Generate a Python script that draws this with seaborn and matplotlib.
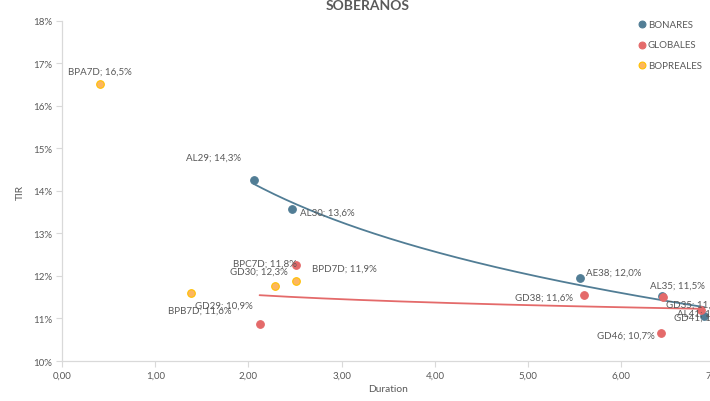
import numpy as np
import pandas as pd
import matplotlib
matplotlib.use("Agg")
import matplotlib.pyplot as plt
import seaborn as sns

# ---- data ----
bonares_names = ["AL29", "AL30", "AE38", "AL35", "AL41"]
bonares_dur = [2.06, 2.47, 5.56, 6.44, 6.89]
bonares_tir = [14.26, 13.57, 11.96, 11.53, 11.05]

globales_names = ["GD29", "GD30", "GD38", "GD35", "GD46", "GD41"]
globales_dur = [2.12, 2.51, 5.60, 6.45, 6.43, 6.86]
globales_tir = [10.87, 12.26, 11.56, 11.50, 10.66, 11.20]

bopreales_names = ["BPA7D", "BPB7D", "BPC7D", "BPD7D"]
bopreales_dur = [0.41, 1.38, 2.29, 2.51]
bopreales_tir = [16.52, 11.60, 11.76, 11.88]

series_names = ["BONARES", "GLOBALES", "BOPREALES"]
x_ticks = [0, 1, 2, 3, 4, 5, 6, 7]
y_ticks = [10, 11, 12, 13, 14, 15, 16, 17, 18]

colors = {"BONARES": "#517D95", "GLOBALES": "#E46A6A", "BOPREALES": "#FDB65F"}
edges = {"BONARES": "#517D95", "GLOBALES": "#E46A6A", "BOPREALES": "#FFC000"}

frames = []
for s, n, d, t in [("BONARES", bonares_names, bonares_dur, bonares_tir),
                   ("GLOBALES", globales_names, globales_dur, globales_tir),
                   ("BOPREALES", bopreales_names, bopreales_dur, bopreales_tir)]:
    frames.append(pd.DataFrame({"serie": s, "name": n, "Duration": d, "TIR": t}))
df = pd.concat(frames, ignore_index=True)

# label offsets in pixels (dx, dy, ha)
label_pos = {
    "BPA7D": (0, 13, "center"), "AL29": (-41, 23, "center"), "AL30": (8, -3, "left"),
    "BPC7D": (-11, 23, "center"), "GD30": (-37, -6, "center"), "BPD7D": (48, 13, "center"),
    "BPB7D": (9, -17, "center"), "GD29": (-36, 19, "center"), "AE38": (6, 5, "left"),
    "GD38": (-11, -3, "right"), "AL35": (15, 11, "center"), "GD35": (3, -7, "left"),
    "GD46": (-7, -2, "right"), "AL41": (0, 3, "center"), "GD41": (2, -7, "center"),
}

sns.set_theme(style="white")
plt.rcParams["font.family"] = ["Lato", "DejaVu Sans"]

fig = plt.figure(figsize=(7.10, 4.02), dpi=100)
ax = fig.add_axes([0.0873, 0.0995, 0.919, 0.846])

txt_color = "#595959"

# trend lines (logarithmic fit)
for s, d, t in [("BONARES", bonares_dur, bonares_tir), ("GLOBALES", globales_dur, globales_tir)]:
    d = np.array(d); t = np.array(t)
    a, b = np.polyfit(np.log(d), t, 1)
    xs = np.linspace(d.min(), d.max(), 200)
    sns.lineplot(x=xs, y=a * np.log(xs) + b, ax=ax, color=colors[s], lw=1.3, zorder=3, legend=False)

for s in series_names:
    sub = df[df.serie == s]
    sns.scatterplot(data=sub, x="Duration", y="TIR", ax=ax, color=colors[s],
                    edgecolor=edges[s], linewidth=0.8, s=30, zorder=4, label=s)

for _, r in df.iterrows():
    dx, dy, ha = label_pos[r["name"]]
    lab = f"{r['name']}; " + f"{r['TIR']:.1f}".replace(".", ",") + "%"
    ax.annotate(lab, (r["Duration"], r["TIR"]), xytext=(dx, dy), textcoords="offset pixels",
                ha=ha, va="center", fontsize=7.0, color=txt_color, zorder=5, annotation_clip=False)

ax.set_xlim(0, 7)
ax.set_ylim(10, 18)
ax.set_xticks(x_ticks)
ax.set_xticklabels([f"{v:.2f}".replace(".", ",") for v in x_ticks])
ax.set_yticks(y_ticks)
ax.set_yticklabels([f"{v}%" for v in y_ticks])
ax.tick_params(axis="both", labelsize=7.0, colors=txt_color, length=4, width=0.8,
               direction="out", color="#D9D9D9", pad=3)
ax.tick_params(axis="both", bottom=True, left=True)
for sp in ["top", "right"]:
    ax.spines[sp].set_visible(False)
for sp in ["left", "bottom"]:
    ax.spines[sp].set_color("#D9D9D9")
    ax.spines[sp].set_linewidth(0.9)
ax.grid(False)
ax.set_xlabel("Duration", fontsize=7.4, color=txt_color, labelpad=3)
ax.set_ylabel("TIR", fontsize=7.4, color=txt_color, labelpad=6)

fig.text(0.518, 1.001, "SOBERANOS", ha="center", va="top", fontsize=10, fontweight="bold", color=txt_color)

leg = ax.legend(loc="upper left", bbox_to_anchor=(0.868, 1.015), frameon=False, fontsize=7.0,
                handletextpad=-0.4, labelspacing=1.2, markerscale=0.9, borderaxespad=0)
for t in leg.get_texts():
    t.set_color(txt_color)

fig.savefig("out.png", dpi=100)
